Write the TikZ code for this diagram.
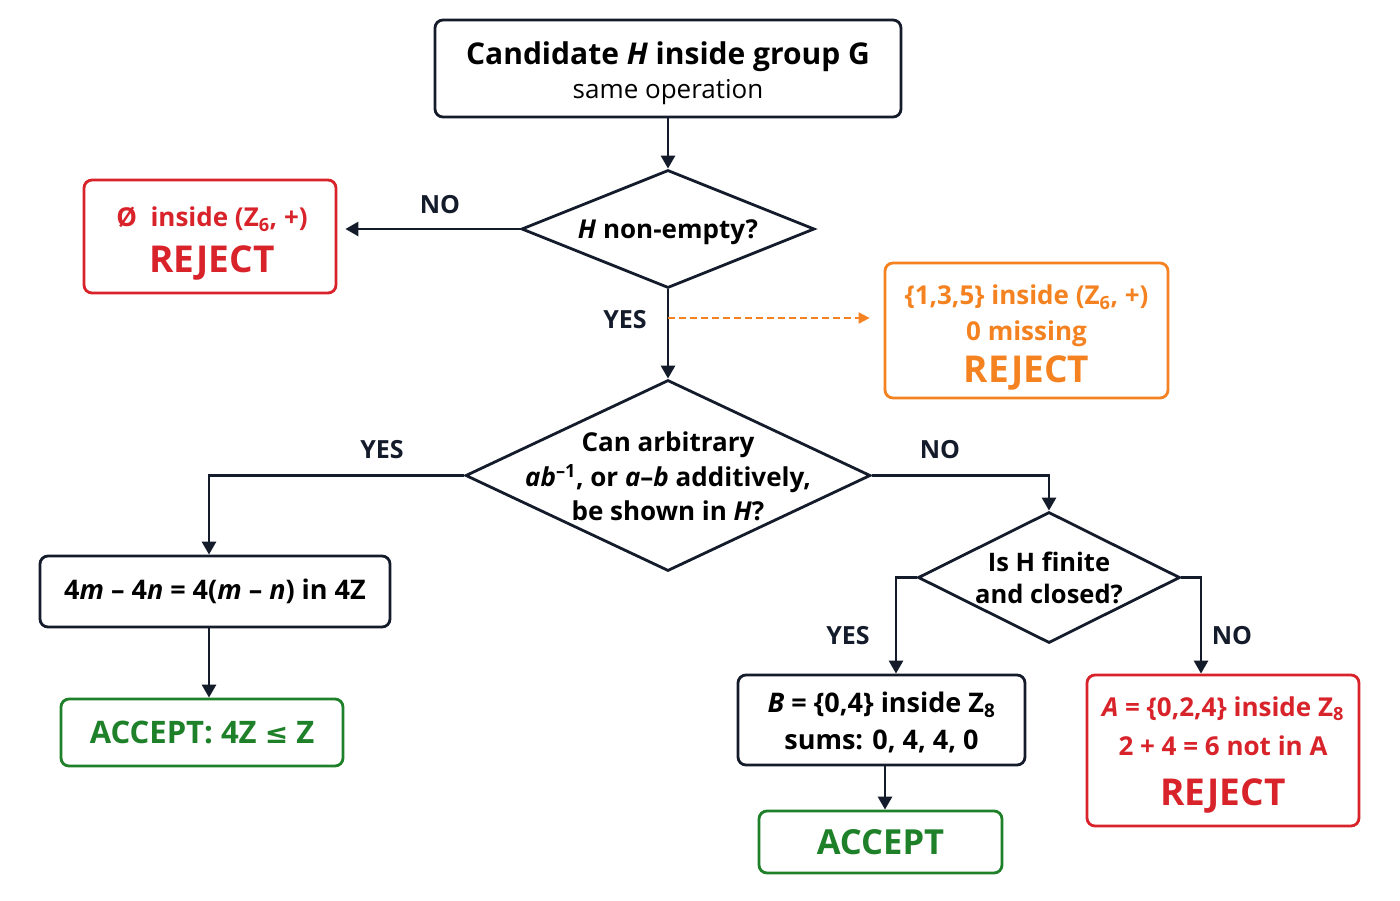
\documentclass[tikz,border=0pt]{standalone}
\usepackage{fontspec}
\setmainfont{Open Sans}
\newfontfamily\dejavu{DejaVu Sans}
\usetikzlibrary{shapes.geometric,arrows.meta}
\definecolor{navy}{HTML}{141C2C}
\definecolor{rred}{HTML}{D8232A}
\definecolor{oorange}{HTML}{F58220}
\definecolor{ggreen}{HTML}{1E8028}
\begin{document}
\begin{tikzpicture}[x=1pt,y=-1pt,
  box/.style={draw=navy, line width=2.8pt, rounded corners=8pt, inner sep=0pt, align=center, text=black},
  rbox/.style={box, draw=rred, text=rred},
  obox/.style={box, draw=oorange, text=oorange},
  gbox/.style={box, draw=ggreen, text=ggreen},
  dia/.style={diamond, draw=navy, line width=2.8pt, inner sep=0pt},
  dtext/.style={align=center, inner sep=0pt},
  arr/.style={draw=navy, line width=2.8pt, -{Triangle[length=13pt,width=14pt]}},
  darr/.style={draw=oorange, line width=2pt, dashed, dash pattern=on 7pt off 4pt, -{Triangle[length=11pt,width=11pt]}},
  lbl/.style={font=\fontsize{25}{28}\selectfont\bfseries, text=navy}
]
\useasboundingbox[fill=white] (0,0) rectangle (1400,900);

% top box
\node[box, minimum width=466pt, minimum height=97pt] (top) at (668,68.5) {};
\node[dtext, font=\fontsize{26}{34}\selectfont] (topt) at ([yshift=-4.5pt]top.center)
  {{\fontsize{30}{34}\selectfont\bfseries Candidate \textit{H} inside group G}\\
   same operation};

% diamond 1
\node[dia, minimum width=293pt, minimum height=118pt] (d1) at (668,229) {};
\node[dtext, font=\fontsize{26}{30}\selectfont\bfseries] (d1t) at ([yshift=-3pt]d1.center) {\textit{H} non-empty?};

% left reject
\node[rbox, minimum width=252pt, minimum height=113pt] (rej1) at (210,236.5) {};
\node[dtext, text=rred, font=\fontsize{26}{46}\selectfont\bfseries] (rej1t) at ([xshift=2pt,yshift=-7pt]rej1.center)
  {Ø\ \ inside (Z\textsubscript{6}, +)\\
   {\fontsize{37}{46}\selectfont REJECT}};

% orange reject
\node[obox, minimum width=283pt, minimum height=135pt] (orej) at (1026.5,330.5) {};
\node[dtext, text=oorange, font=\fontsize{26}{36}\selectfont\bfseries] (orejt) at ([yshift=-7pt]orej.center)
  {\{1,3,5\} inside (Z\textsubscript{6}, +)\\
   0 missing\\[6pt]
   {\fontsize{37}{36}\selectfont REJECT}};

% diamond 2
\node[dia, minimum width=405pt, minimum height=191pt] (d2) at (668,475.5) {};
\node[dtext, font=\fontsize{26}{34.5}\selectfont\bfseries] (d2t) at ([yshift=-1pt]d2.center) {Can arbitrary\\ \textit{ab}\textsuperscript{–1}, or \textit{a}–\textit{b} additively,\\ be shown in \textit{H}?};

% left branch
\node[box, minimum width=350pt, minimum height=71pt, font=\fontsize{27}{30}\selectfont\bfseries] (b4m) at (215,591.5)
  {4\textit{m} – 4\textit{n} = 4(\textit{m} – \textit{n}) in 4Z};
\node[gbox, minimum width=282pt, minimum height=67pt, font=\fontsize{31}{34}\selectfont\bfseries] (acc1) at (202,732.5)
  {ACCEPT: 4Z {\dejavu\bfseries\fontsize{28}{30}\selectfont ≤} Z};

% diamond 3
\node[dia, minimum width=262pt, minimum height=131pt] (d3) at (1049,577.5) {};
\node[dtext, font=\fontsize{25.5}{32}\selectfont\bfseries] (d3t) at (d3.center) {Is H finite\\ and closed?};

% right-bottom boxes
\node[box, minimum width=287pt, minimum height=90pt] (bB) at (881.5,720) {};
\node[dtext, font=\fontsize{27}{37}\selectfont\bfseries] (bBt) at ([yshift=-2.5pt]bB.center)
  {\textit{B} = \{0,4\} inside Z\textsubscript{8}\\
   sums: 0, 4, 4, 0};
\node[gbox, minimum width=243pt, minimum height=62pt, font=\fontsize{34.5}{38}\selectfont\bfseries] (acc2) at (880.5,842)
  {ACCEPT};
\node[rbox, minimum width=272pt, minimum height=151pt] (rejA) at (1223,750.5) {};
\node[dtext, text=rred, font=\fontsize{26}{39}\selectfont\bfseries] (rejAt) at ([yshift=-4pt]rejA.center)
  {\textit{A} = \{0,2,4\} inside Z\textsubscript{8}\\
   2 + 4 = 6 not in A\\[11pt]
   {\fontsize{37}{39}\selectfont REJECT}};

% helper coordinates
\coordinate (ydash) at (668,318);
\coordinate (cx1) at (209,0);
\coordinate (cx2) at (896,0);
\coordinate (cx3) at (1201,0);
\coordinate (cx4) at (885,0);

% connectors
\draw[arr] (top.south) -- (d1.north);
\draw[arr, shorten >=8pt] (d1.west) -- (d1.west -| rej1.east);
\draw[arr] (d1.south) -- (d2.north);
\draw[darr, shorten >=14pt] (ydash) -- (ydash -| orej.west);
\draw[arr] (d2.west) -| (b4m.north -| cx1);
\draw[arr] (b4m.south -| cx1) -- (acc1.north -| cx1);
\draw[arr] (d2.east) -| (d3.north);
\draw[arr] (d3.west) -| (bB.north -| cx2);
\draw[arr] (d3.east) -| (rejA.north -| cx3);
\draw[arr] (bB.south -| cx4) -- (acc2.north -| cx4);

% labels
\node[lbl] (lno1) at (440,205) {NO};
\node[lbl] (lyes1) at (625,320) {YES};
\node[lbl] (lyes2) at (382,450) {YES};
\node[lbl] (lno2) at (940,450) {NO};
\node[lbl] (lyes3) at (848,636) {YES};
\node[lbl] (lno3) at (1232,636) {NO};
\end{tikzpicture}
\end{document}
